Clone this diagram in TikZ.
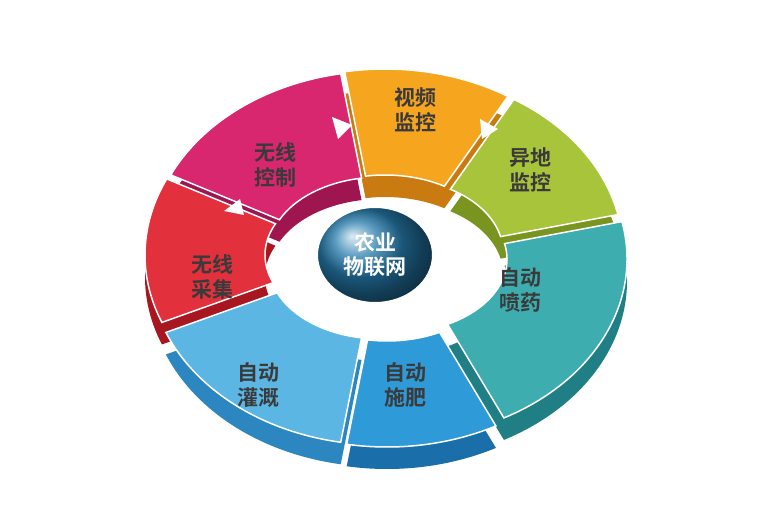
\documentclass[tikz,border=0pt]{standalone}
\usepackage{fontspec}
\newfontfamily\cjk{Noto Sans CJK SC}[BoldFont={Noto Sans CJK SC Bold}]
\usetikzlibrary{shapes.geometric}
\definecolor{cOr}{HTML}{F6A51E}\definecolor{sOr}{HTML}{C97A10}
\definecolor{cGr}{HTML}{A8C43A}\definecolor{sGr}{HTML}{7A9420}
\definecolor{cTe}{HTML}{3DADB0}\definecolor{sTe}{HTML}{1F7F85}
\definecolor{cBl}{HTML}{2F9AD8}\definecolor{sBl}{HTML}{1A6FAA}
\definecolor{cLb}{HTML}{5CB6E4}\definecolor{sLb}{HTML}{2C86C0}
\definecolor{cRe}{HTML}{E2303C}\definecolor{sRe}{HTML}{A8161F}
\definecolor{cMa}{HTML}{D8266F}\definecolor{sMa}{HTML}{9E1550}
\definecolor{txt}{HTML}{3A3A3A}
\newcommand\ringpath[4]{% start end dx dy
 ([shift={(#3,#4)}]#1:232 and 180) arc[start angle=#1,end angle=#2,x radius=232,y radius=180]
 -- ([shift={(#3,#4)}]#2:112 and 74) arc[start angle=#2,end angle=#1,x radius=112,y radius=74] -- cycle}
\newcommand\ringseg[6]{% start end top side dx dy
 \fill[#4] \ringpath{#1}{#2}{#5}{#6-22};
 \fill[#3,draw=white,line width=1.5pt] \ringpath{#1}{#2}{#5}{#6};}
\begin{document}
\begin{tikzpicture}[x=1pt,y=1pt,
 lab/.style={font=\cjk\bfseries\fontsize{21}{25}\selectfont,text=txt,align=center},
 tri/.style={fill=white,draw=none}]
\useasboundingbox (0,0) rectangle (768,507);
\begin{scope}[shift={(385,252)}]
\ringseg{100}{58}{cOr}{sOr}{0}{6}
\ringseg{58}{12}{cGr}{sGr}{6}{3}
\ringseg{155}{100}{cMa}{sMa}{-4}{4}
\ringseg{202}{155}{cRe}{sRe}{-8}{0}
\ringseg{12}{-62}{cTe}{sTe}{10}{-4}
\ringseg{-62}{-100}{cBl}{sBl}{2}{-12}
\ringseg{-100}{-158}{cLb}{sLb}{-4}{-10}
\end{scope}
\node[ellipse,minimum width=116,minimum height=96,inner sep=0,
 shading=ball,ball color=cBl!80!black,draw=white,line width=2pt,
 font=\cjk\bfseries\fontsize{21}{24}\selectfont,text=white,align=center] (center) at (375,252) {农业\\物联网};
\node[lab] (sp) at (415,397) {视频\\监控};
\node[lab] (yd) at (530,337) {异地\\监控};
\node[lab] (pen) at (520,217) {自动\\喷药};
\node[lab] (shi) at (405,122) {自动\\施肥};
\node[lab] (guan) at (258,122) {自动\\灌溉};
\node[lab] (cai) at (212,230) {无线\\采集};
\node[lab] (kz) at (275,342) {无线\\控制};
\coordinate (t1) at (352,382);\coordinate (t2) at (498,378);\coordinate (t3) at (240,308);
\fill[tri] (t1) -- ++(-20,8) -- ++(6,-22) -- cycle;
\fill[tri] (t2) -- ++(-18,10) -- ++(2,-20) -- cycle;
\fill[tri] (t3) -- ++(-16,-12) -- ++(20,-4) -- cycle;
\end{tikzpicture}
\end{document}
